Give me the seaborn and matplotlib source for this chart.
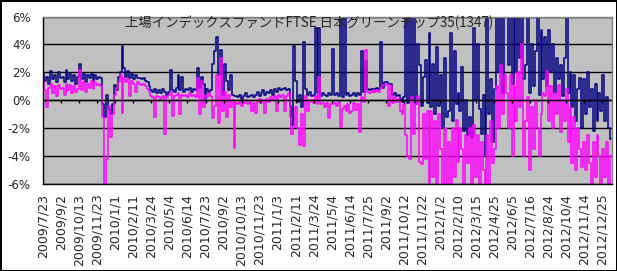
import numpy as np
import pandas as pd
import seaborn as sns
import matplotlib.pyplot as plt

# deviation series (%), one value every 3 trading days
navy_dev = [
    1.9, 1.4, 1.7, 1.2, 2.1, 1.5, 1.8, 1.3, 2.0, 1.6,
    1.7, 1.3, 2.2, 1.5, 1.9, 1.4, 1.8, 1.2, 1.7, 2.6,
    1.5, 1.9, 1.3, 1.8, 1.6, 1.9, 1.4, 1.8, 1.5, 1.7,
    1.6, -0.3, -1.2, 0.4, -0.6, -1.0, -0.3, 1.1, 0.7, 1.7,
    2.0, 3.9, 2.3, 1.7, 2.1, 1.6, 1.9, 1.5, 1.8, 1.6,
    1.6, 1.5, 1.6, 1.4, 1.3, 1.0, 0.7, 0.6, 0.8, 0.5,
    0.7, 0.5, 0.8, 0.6, 0.4, 0.6, 2.2, 0.7, 0.6, 0.9,
    1.8, 0.7, 1.7, 0.6, 0.8, 0.7, 0.9, 0.6, 0.8, 0.7,
    2.3, 0.9, 1.7, 1.2, 0.1, 0.8, 0.6, 0.7, 2.6, 3.5,
    4.5, 1.8, 3.6, 0.4, 2.6, 1.4, 0.7, 1.8, 0.4, 0.3,
    0.3, 0.2, 0.4, 0.1, 0.3, 0.5, 0.2, 0.3, 0.4, 0.2,
    0.4, 0.6, 0.3, 0.5, 0.7, 0.4, 0.6, 0.5, 0.7, 0.4,
    0.8, 0.6, 0.9, 0.7, 0.8, 0.9, 0.7, 0.8, -0.4, -1.8,
    3.9, 1.4, -0.1, 0.4, -0.5, 4.2, 0.8, 0.4, 0.6, 0.3,
    0.4, 5.2, 0.5, 5.2, 0.3, 0.5, 0.4, 0.3, 0.5, 0.4,
    3.7, 0.4, 0.5, 0.3, 9.0, 0.2, 8.0, 0.4, 0.5, 0.3,
    0.4, 0.5, 0.3, 0.5, 0.4, 3.5, 0.6, 2.8, 0.8, 0.7,
    0.8, 0.7, 0.8, 0.9, 0.8, 4.2, 0.9, 1.3, 1.3, 1.2,
    1.2, 0.4, 0.5, 0.3, 0.4, 0.1, -0.1, 0.2, 7.5, -0.2,
    8.0, 0.0, 7.0, -0.3, 4.0, 2.5, -0.4, 1.7, 2.9, -0.2,
    4.8, -0.5, 2.6, -1.0, 3.8, -0.4, 1.8, -2.0, 3.0, -1.2,
    -0.8, 4.8, -1.5, 3.5, -0.3, 0.5, -0.8, 2.4, -2.2, 0.0,
    -2.5, -1.2, -2.7, 5.2, 0.0, 4.0, -0.6, -2.4, 0.4, -3.9,
    9.0, -1.0, 1.5, -3.0, 0.8, 9.0, 2.0, 8.0, 0.5, 7.0,
    8.0, 2.5, 9.0, 1.2, 7.0, 2.0, 8.5, 3.0, 9.0, 1.5,
    2.5, 9.0, 0.5, 4.0, 1.0, 3.5, 9.0, 0.4, 5.0, 1.5,
    4.5, 1.0, 5.0, 2.0, 4.0, 0.5, 3.0, 1.5, 2.5, 0.3,
    3.0, 6.0, 0.5, 2.0, -0.5, 1.8, -1.5, 0.8, 1.6, -2.0,
    1.5, -1.0, 2.0, -0.5, 0.8, -2.2, 1.2, -1.5, 0.5, -0.8,
    1.8, -1.5, 0.2, -2.0, -2.8,
]

magenta_dev = [
    1.3, 0.7, -0.5, 0.9, 1.2, 0.5, 1.0, 0.3, 1.1, 0.8,
    0.9, 0.4, 1.2, 0.7, 1.1, 0.5, 1.0, 0.6, 0.8, 2.2,
    0.7, 1.3, 0.6, 1.2, 0.9, 1.4, 0.8, 1.3, 1.1, 1.2,
    1.0, -1.2, -6.0, -4.2, -0.4, -2.6, -1.0, 0.4, 0.9, 1.3,
    1.8, -0.9, 1.6, 1.3, 1.5, 0.3, 1.4, 1.2, 0.6, 1.3,
    1.2, 1.1, 1.2, 1.0, 0.8, 0.6, 0.3, 0.2, -1.2, 0.3,
    0.2, 0.1, 0.3, -2.4, 0.2, 0.4, 0.6, -1.1, 0.3, 0.4,
    0.5, -1.0, 0.4, 0.3, 0.4, 0.2, 0.5, 0.3, 0.4, 0.2,
    1.6, -1.0, 1.4, -0.5, 0.4, 0.2, 0.5, 0.3, -1.3, -0.4,
    1.8, -1.6, 3.0, -0.8, 0.6, -1.2, 0.4, -0.5, 0.0, -3.4,
    -0.2, -0.3, -0.1, -0.4, -0.2, 0.0, -0.3, -0.1, -0.8, -0.2,
    -0.9, -0.1, 0.1, -0.2, 0.0, -0.9, 0.1, -0.1, 0.2, 0.0,
    0.3, -0.8, 0.4, 0.2, 0.4, -0.8, 0.3, 0.5, -1.2, -2.4,
    -1.9, -0.5, -2.0, -3.2, -1.0, -3.3, 0.3, -0.8, -0.1, 0.0,
    -0.2, 0.3, -0.3, 1.7, -0.3, -0.2, -0.5, -0.2, -1.3, -0.3,
    -0.3, -0.2, -0.4, -0.1, -1.9, -0.6, -0.4, -0.8, -0.3, -0.9,
    -0.8, -0.2, -0.7, -0.3, -2.3, 0.2, -0.1, 3.6, 0.6, 0.5,
    0.6, 0.7, 0.6, 0.7, 0.6, 0.9, 1.1, 1.1, 1.2, -0.4,
    1.0, -0.2, 0.2, -0.1, 0.1, -0.8, -1.0, -0.3, -2.5, -4.0,
    -4.2, 0.2, -2.4, -0.3, 0.3, -4.4, -4.6, -1.0, -4.2, -0.8,
    -6.0, -0.8, -5.5, -1.5, -6.0, -1.0, -3.5, -6.0, -2.0, -6.0,
    -3.0, -6.0, -2.0, -5.5, -1.4, -4.4, -2.0, -3.5, -6.0, -2.5,
    -4.5, -2.0, -6.0, -1.8, -5.5, -2.5, -6.0, -3.0, -5.0, -6.0,
    -2.5, -6.0, -1.5, -4.5, -3.5, 1.0, -2.0, 2.5, -1.0, 1.8,
    0.5, -2.0, 1.8, -4.0, 1.0, -1.5, 2.0, -0.5, 4.0, -4.0,
    -1.5, 0.2, -5.0, -0.5, -3.5, 0.0, -2.0, -4.0, -1.0, 0.5,
    0.3, 2.1, -1.5, 1.0, -2.0, 0.5, -1.0, 1.1, -2.3, 0.0,
    -1.5, 0.8, -3.0, -0.5, -4.5, -1.2, -5.0, -2.0, -3.5, -4.8,
    -3.0, -5.0, -2.5, -4.5, -6.0, -3.0, -5.5, -2.5, -4.0, -6.0,
    -3.5, -5.5, -3.0, -6.0, -4.0,
]

tick_labels = [
    "2009/7/23", "2009/9/2", "2009/10/13", "2009/11/23", "2010/1/1",
    "2010/2/11", "2010/3/24", "2010/5/4", "2010/6/14", "2010/7/23",
    "2010/9/2", "2010/10/13", "2010/11/23", "2011/1/3", "2011/2/11",
    "2011/3/24", "2011/5/4", "2011/6/14", "2011/7/25", "2011/9/2",
    "2011/10/12", "2011/11/22", "2012/1/2", "2012/2/10", "2012/3/15",
    "2012/4/25", "2012/6/5", "2012/7/16", "2012/8/24", "2012/10/4",
    "2012/11/14", "2012/12/25",
]

title = "上場インデックスファンドFTSE 日本グリーンチップ35(1347)"

step = 3        # trading days between samples
label_every = 28  # trading days between date labels

df = pd.DataFrame({"day": np.arange(len(navy_dev)) * step,
                   "navy": navy_dev, "magenta": magenta_dev})

sns.set_style("white")
plt.rcParams["font.family"] = ["DejaVu Sans", "Noto Sans CJK JP"]

fig = plt.figure(figsize=(6.17, 2.71), dpi=100, edgecolor="black", linewidth=2)
ax = fig.add_axes([43.3 / 617, 1 - 184 / 271, (612 - 43.3) / 617, 167.5 / 271])
ax.set_facecolor("#C0C0C0")

# daily data looks like vertical spikes, steps keep that look
sns.lineplot(data=df, x="day", y="navy", ax=ax, color="#000080", lw=1.1,
             drawstyle="steps-mid")
sns.lineplot(data=df, x="day", y="magenta", ax=ax, color="#FF00FF", lw=1.1,
             drawstyle="steps-mid")

ticks = np.arange(len(tick_labels)) * label_every
ax.set_xlim(0, 883.5)
ax.set_ylim(-6, 6)
ax.set_yticks(np.arange(-6, 7, 2))
ax.set_yticklabels([f"{v}%" for v in range(-6, 7, 2)], fontsize=8.5)
ax.set_xticks(ticks)
ax.set_xticklabels(tick_labels, rotation=90, fontsize=9, va="top", ha="center")
ax.tick_params(axis="both", length=0)
ax.tick_params(axis="y", pad=9)
ax.tick_params(axis="x", pad=7)
ax.set_xlabel("")
ax.set_ylabel("")

ax.yaxis.grid(True, color="black", lw=1)
ax.set_axisbelow(True)
# small category ticks sitting on the 0% line
ax.vlines(ticks, -0.2, 0, color="black", lw=1)
ax.axhline(0, color="black", lw=1)

for side in ["top", "right"]:
    ax.spines[side].set_color("#808080")
    ax.spines[side].set_linewidth(1)
ax.spines["left"].set_color("black")
ax.spines["bottom"].set_color("black")
ax.spines["left"].set_linewidth(1)
ax.spines["bottom"].set_linewidth(1)

fig.text(309 / 617, 1 - 23 / 271, title, ha="center", va="center",
         fontsize=9.6, family=["Noto Sans CJK JP", "DejaVu Sans"])

fig.savefig("out.png", dpi=100, facecolor="white")
